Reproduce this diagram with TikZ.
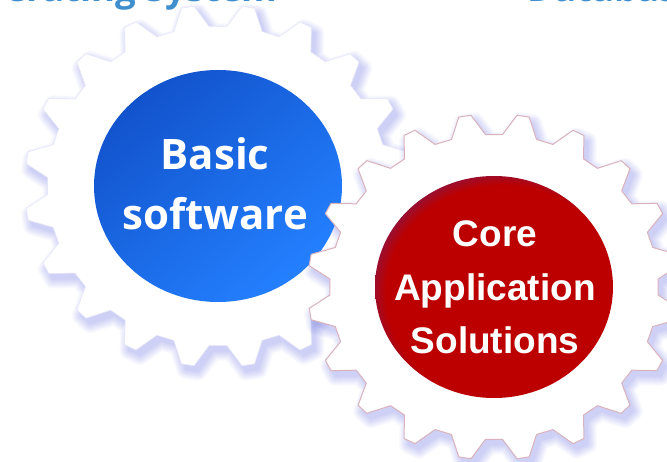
\documentclass[tikz,border=0pt]{standalone}
\usepackage{fontspec}
\setmainfont{Liberation Sans}
\newfontfamily\opensans{Open Sans}
\definecolor{gearshadow}{HTML}{5A64E6}
\definecolor{blueedge}{HTML}{E4E6F8}
\definecolor{rededge}{HTML}{D9B2BC}
\definecolor{headblue}{HTML}{3F8FCF}
\definecolor{bluedark}{HTML}{1253CC}
\definecolor{bluelight}{HTML}{2480FF}
\definecolor{redcore}{HTML}{BC0000}
\definecolor{redrim}{HTML}{7C1A58}
\pgfdeclareradialshading{redball}{\pgfpoint{3.2bp}{-2.8bp}}{
  color(0bp)=(redcore);color(24.4bp)=(redcore);
  color(29bp)=(redrim);color(50bp)=(redrim)}
\tikzset{
  headline/.style={font=\opensans\bfseries\fontsize{36.5}{36.5}\selectfont,text=headblue,inner sep=0pt},
  blueword/.style={font=\opensans\bfseries\fontsize{42}{42}\selectfont,text=white,inner sep=0pt,anchor=base},
  redword/.style={font=\bfseries\fontsize{37}{37}\selectfont,text=white,inner sep=0pt,anchor=base}
}
% centre x, centre y, rx, ry
\newcommand{\gearcoords}[4]{%
  ({#1+#3*0.893*cos(-3)},{#2-#4*0.893*sin(-3)})
  \foreach \k in {0,18,...,342}{
    -- ({#1+#3*0.893*cos(\k+3)},{#2-#4*0.893*sin(\k+3)})
    -- ({#1+#3*1.012*cos(\k+7.1)},{#2-#4*1.012*sin(\k+7.1)})
    -- ({#1+#3*1.012*cos(\k+10.9)},{#2-#4*1.012*sin(\k+10.9)})
    -- ({#1+#3*0.893*cos(\k+15)},{#2-#4*0.893*sin(\k+15)})
  } -- cycle}
\newcommand{\softshadow}[4]{%
  \foreach \w in {18,16,14,12,10,8,6,4,2,0.5}{
    \begin{scope}[transparency group,opacity=0.032]
    \draw[draw=gearshadow,fill=gearshadow,line width=\w pt,line join=round]
      \gearcoords{#1+4}{#2-6}{#3}{#4};
    \end{scope}
  }}
\begin{document}
\begin{tikzpicture}[x=1pt,y=1pt]
\useasboundingbox (0,0) rectangle (667,-462);
\clip (0,0) rectangle (667,-462);
\fill[white] (0,0) rectangle (667,-462);
\node[headline,anchor=base east] (oshead) at (278,-2) {Operating System};
\node[headline,anchor=base west] (dbhead) at (527,-2) {Database};
% blue gear
\softshadow{218}{-186}{191}{179}
\draw[draw=blueedge,fill=white,line width=0.6pt,line join=round] \gearcoords{218}{-186}{191}{179};
% red gear shadow, then the blue disc over it
\softshadow{494}{-287}{184}{171}
\shade[top color=bluedark,bottom color=bluelight,shading angle=40]
  (218,-186) ellipse [x radius=124,y radius=116];
\node[blueword] (basic) at (215,-170) {Basic};
\node[blueword] (soft) at (215,-230) {software};
% red gear
\draw[draw=rededge,fill=white,line width=1pt,line join=round] \gearcoords{494}{-287}{184}{171};
\shade[shading=redball] (494,-287) ellipse [x radius=119,y radius=111];
\node[redword] (core) at (495,-246.5) {Core};
\node[redword] (app) at (495,-300.5) {Application};
\node[redword] (sol) at (495,-354) {Solutions};
\end{tikzpicture}
\end{document}
